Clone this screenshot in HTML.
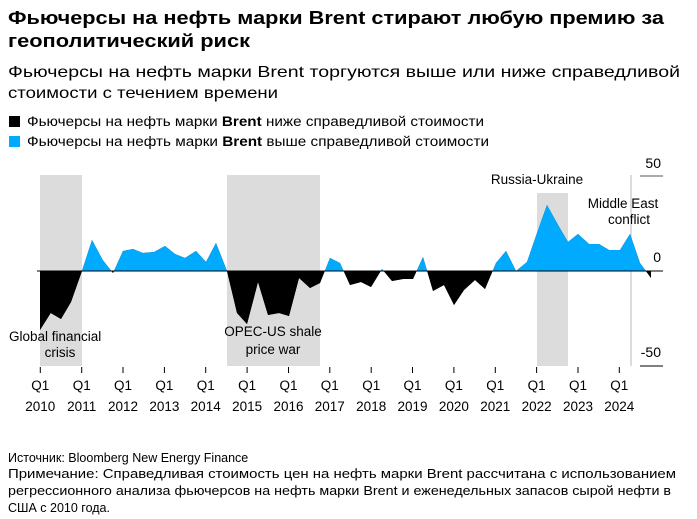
<!DOCTYPE html>
<html><head><meta charset="utf-8"><style>
html,body{margin:0;padding:0;background:#fff;}
svg{display:block;font-family:"Liberation Sans","DejaVu Sans",sans-serif;}
</style></head><body>
<svg width="697" height="519" viewBox="0 0 697 519" xmlns="http://www.w3.org/2000/svg">
<text x="8" y="24" font-size="18.5" font-weight="bold" textLength="656" lengthAdjust="spacingAndGlyphs">Фьючерсы на нефть марки Brent стирают любую премию за</text>
<text x="8" y="47" font-size="18.5" font-weight="bold" textLength="242" lengthAdjust="spacingAndGlyphs">геополитический риск</text>
<text x="8" y="77" font-size="16" textLength="672" lengthAdjust="spacingAndGlyphs">Фьючерсы на нефть марки Brent торгуются выше или ниже справедливой</text>
<text x="8" y="98" font-size="16" textLength="270" lengthAdjust="spacingAndGlyphs">стоимости с течением времени</text>
<rect x="9" y="116" width="11" height="11" fill="#000"/>
<text x="27" y="126" font-size="13.5" textLength="457" lengthAdjust="spacingAndGlyphs">Фьючерсы на нефть марки <tspan font-weight="bold">Brent</tspan> ниже справедливой стоимости</text>
<rect x="9" y="136" width="11" height="11" fill="#00aaff"/>
<text x="27" y="146" font-size="13.5" textLength="462" lengthAdjust="spacingAndGlyphs">Фьючерсы на нефть марки <tspan font-weight="bold">Brent</tspan> выше справедливой стоимости</text>

<rect x="40" y="175" width="42" height="191" fill="#dcdcdc"/>
<rect x="227" y="175" width="93" height="191" fill="#dcdcdc"/>
<rect x="537" y="193" width="31" height="173" fill="#dcdcdc"/>
<rect x="630" y="175" width="2" height="191" fill="#dcdcdc"/>

<defs>
<clipPath id="up"><rect x="0" y="0" width="697" height="271"/></clipPath>
<clipPath id="dn"><rect x="0" y="271" width="697" height="200"/></clipPath>
</defs>
<g id="area">
<polygon id="p" points="40,271 40,330 50.7,313 61,319 71,302 81.7,271.7 92,240 102.7,260 113,273 123,251 133,249 143,253 154,252 165,246 175,254 185,258 196,251 206,262 216,243 227,271 237,313 247,324 258,282 268,315 279,313 289,316 299,278 310,288 320,283 330,258 340,263 350,285 361,282 371,287 382,269 392,281 403,279 413,279 423,257 433,291 444,285 454,305 464,290 475,280 485,289 496,263 506,251 516,271 527,262 537,233 547,205 558,225 568,242 578,234 589,244 599,244 609,250 620,250 630,234 640,263 651,278 651,271"/>
</g>
<use href="#p" fill="#00aaff" clip-path="url(#up)"/>
<use href="#p" fill="#000" clip-path="url(#dn)"/>
<line x1="37" y1="271" x2="663" y2="271" stroke="#000" stroke-width="1"/>

<line x1="640" y1="176" x2="663" y2="176" stroke="#555" stroke-width="1"/>
<line x1="640" y1="366" x2="663" y2="366" stroke="#000" stroke-width="1"/>
<text x="661" y="168" font-size="14" text-anchor="end">50</text>
<text x="661" y="262" font-size="14" text-anchor="end">0</text>
<text x="661" y="357" font-size="14" text-anchor="end">-50</text>

<g font-size="13.5">
<text x="9" y="341">Global financial</text>
<text x="60" y="357" text-anchor="middle">crisis</text>
<text x="273" y="336" text-anchor="middle">OPEC-US shale</text>
<text x="273" y="354" text-anchor="middle">price war</text>
<text x="537" y="184" text-anchor="middle">Russia-Ukraine</text>
<text x="623" y="208" text-anchor="middle">Middle East</text>
<text x="629" y="224" text-anchor="middle">conflict</text>
</g>

<g stroke="#000" stroke-width="1">
<line x1="40.3" y1="367" x2="40.3" y2="373"/><line x1="81.7" y1="367" x2="81.7" y2="373"/>
<line x1="123" y1="367" x2="123" y2="373"/><line x1="164.4" y1="367" x2="164.4" y2="373"/>
<line x1="205.7" y1="367" x2="205.7" y2="373"/><line x1="247.1" y1="367" x2="247.1" y2="373"/>
<line x1="288.5" y1="367" x2="288.5" y2="373"/><line x1="329.8" y1="367" x2="329.8" y2="373"/>
<line x1="371.2" y1="367" x2="371.2" y2="373"/><line x1="412.5" y1="367" x2="412.5" y2="373"/>
<line x1="453.9" y1="367" x2="453.9" y2="373"/><line x1="495.3" y1="367" x2="495.3" y2="373"/>
<line x1="536.6" y1="367" x2="536.6" y2="373"/><line x1="578" y1="367" x2="578" y2="373"/>
<line x1="619.3" y1="367" x2="619.3" y2="373"/>
</g>
<g font-size="13.5" text-anchor="middle">
<text x="40.3" y="390">Q1</text><text x="40.3" y="411">2010</text>
<text x="81.7" y="390">Q1</text><text x="81.7" y="411">2011</text>
<text x="123" y="390">Q1</text><text x="123" y="411">2012</text>
<text x="164.4" y="390">Q1</text><text x="164.4" y="411">2013</text>
<text x="205.7" y="390">Q1</text><text x="205.7" y="411">2014</text>
<text x="247.1" y="390">Q1</text><text x="247.1" y="411">2015</text>
<text x="288.5" y="390">Q1</text><text x="288.5" y="411">2016</text>
<text x="329.8" y="390">Q1</text><text x="329.8" y="411">2017</text>
<text x="371.2" y="390">Q1</text><text x="371.2" y="411">2018</text>
<text x="412.5" y="390">Q1</text><text x="412.5" y="411">2019</text>
<text x="453.9" y="390">Q1</text><text x="453.9" y="411">2020</text>
<text x="495.3" y="390">Q1</text><text x="495.3" y="411">2021</text>
<text x="536.6" y="390">Q1</text><text x="536.6" y="411">2022</text>
<text x="578" y="390">Q1</text><text x="578" y="411">2023</text>
<text x="619.3" y="390">Q1</text><text x="619.3" y="411">2024</text>
</g>

<g font-size="12.5">
<text x="8" y="462">Источник: Bloomberg New Energy Finance</text>
<text x="8" y="478" textLength="668" lengthAdjust="spacingAndGlyphs">Примечание: Справедливая стоимость цен на нефть марки Brent рассчитана с использованием</text>
<text x="8" y="495" textLength="663" lengthAdjust="spacingAndGlyphs">регрессионного анализа фьючерсов на нефть марки Brent и еженедельных запасов сырой нефти в</text>
<text x="8" y="512">США с 2010 года.</text>
</g>
</svg>
</body></html>
